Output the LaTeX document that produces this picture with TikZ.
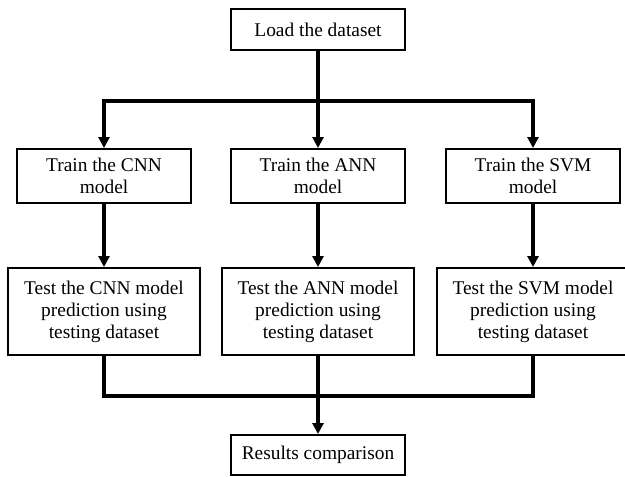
\documentclass[tikz,border=0pt]{standalone}
\usepackage{fontspec}
\setmainfont{Liberation Serif}
\usetikzlibrary{arrows.meta}

\begin{document}
\begin{tikzpicture}[x=0.5pt,y=-0.5pt,
        box/.style={draw,line width=1pt,align=center,inner sep=0pt,font=\fontsize{9.7}{11}\selectfont},
        small/.style={box,minimum width=87pt,minimum height=20.5pt},
        train/.style={box,minimum width=87pt,minimum height=27pt},
        test/.style={box,minimum width=96pt,minimum height=43.5pt},
        flow/.style={line width=2pt},
        arr/.style={flow,-{Triangle[width=5.5pt,length=5.5pt]}}]
        \useasboundingbox(0,0)rectangle(625,476);

        \node[small](load)at(318,29.5){Load the dataset};
        \node[train](trainC)at(104,176){Train the CNN\\model};
        \node[train](trainA)at(318,176){Train the ANN\\model};
        \node[train](trainS)at(533,176){Train the SVM\\model};
        \node[test](testC)at(104,311.5){Test the CNN model\\prediction using\\testing dataset};
        \node[test](testA)at(318,311.5){Test the ANN model\\prediction using\\testing dataset};
        \node[test](testS)at(533,311.5){Test the SVM model\\prediction using\\testing dataset};
        \node[small,minimum height=20pt](result)at(318,455){Results comparison};
        \coordinate(split)at(318,101);
        \coordinate(merge)at(318,396);

        \draw[flow](load)--(split);
        \draw[arr](split)-|(trainC);
        \draw[arr](split)-|(trainS);
        \draw[arr](split)--(trainA);
        \draw[arr](trainC)--(testC);
        \draw[arr](trainA)--(testA);
        \draw[arr](trainS)--(testS);
        \draw[flow](testC)|-(merge);
        \draw[flow](testS)|-(merge);
        \draw[arr](testA)--(result);
    \end{tikzpicture}
\end{document}
